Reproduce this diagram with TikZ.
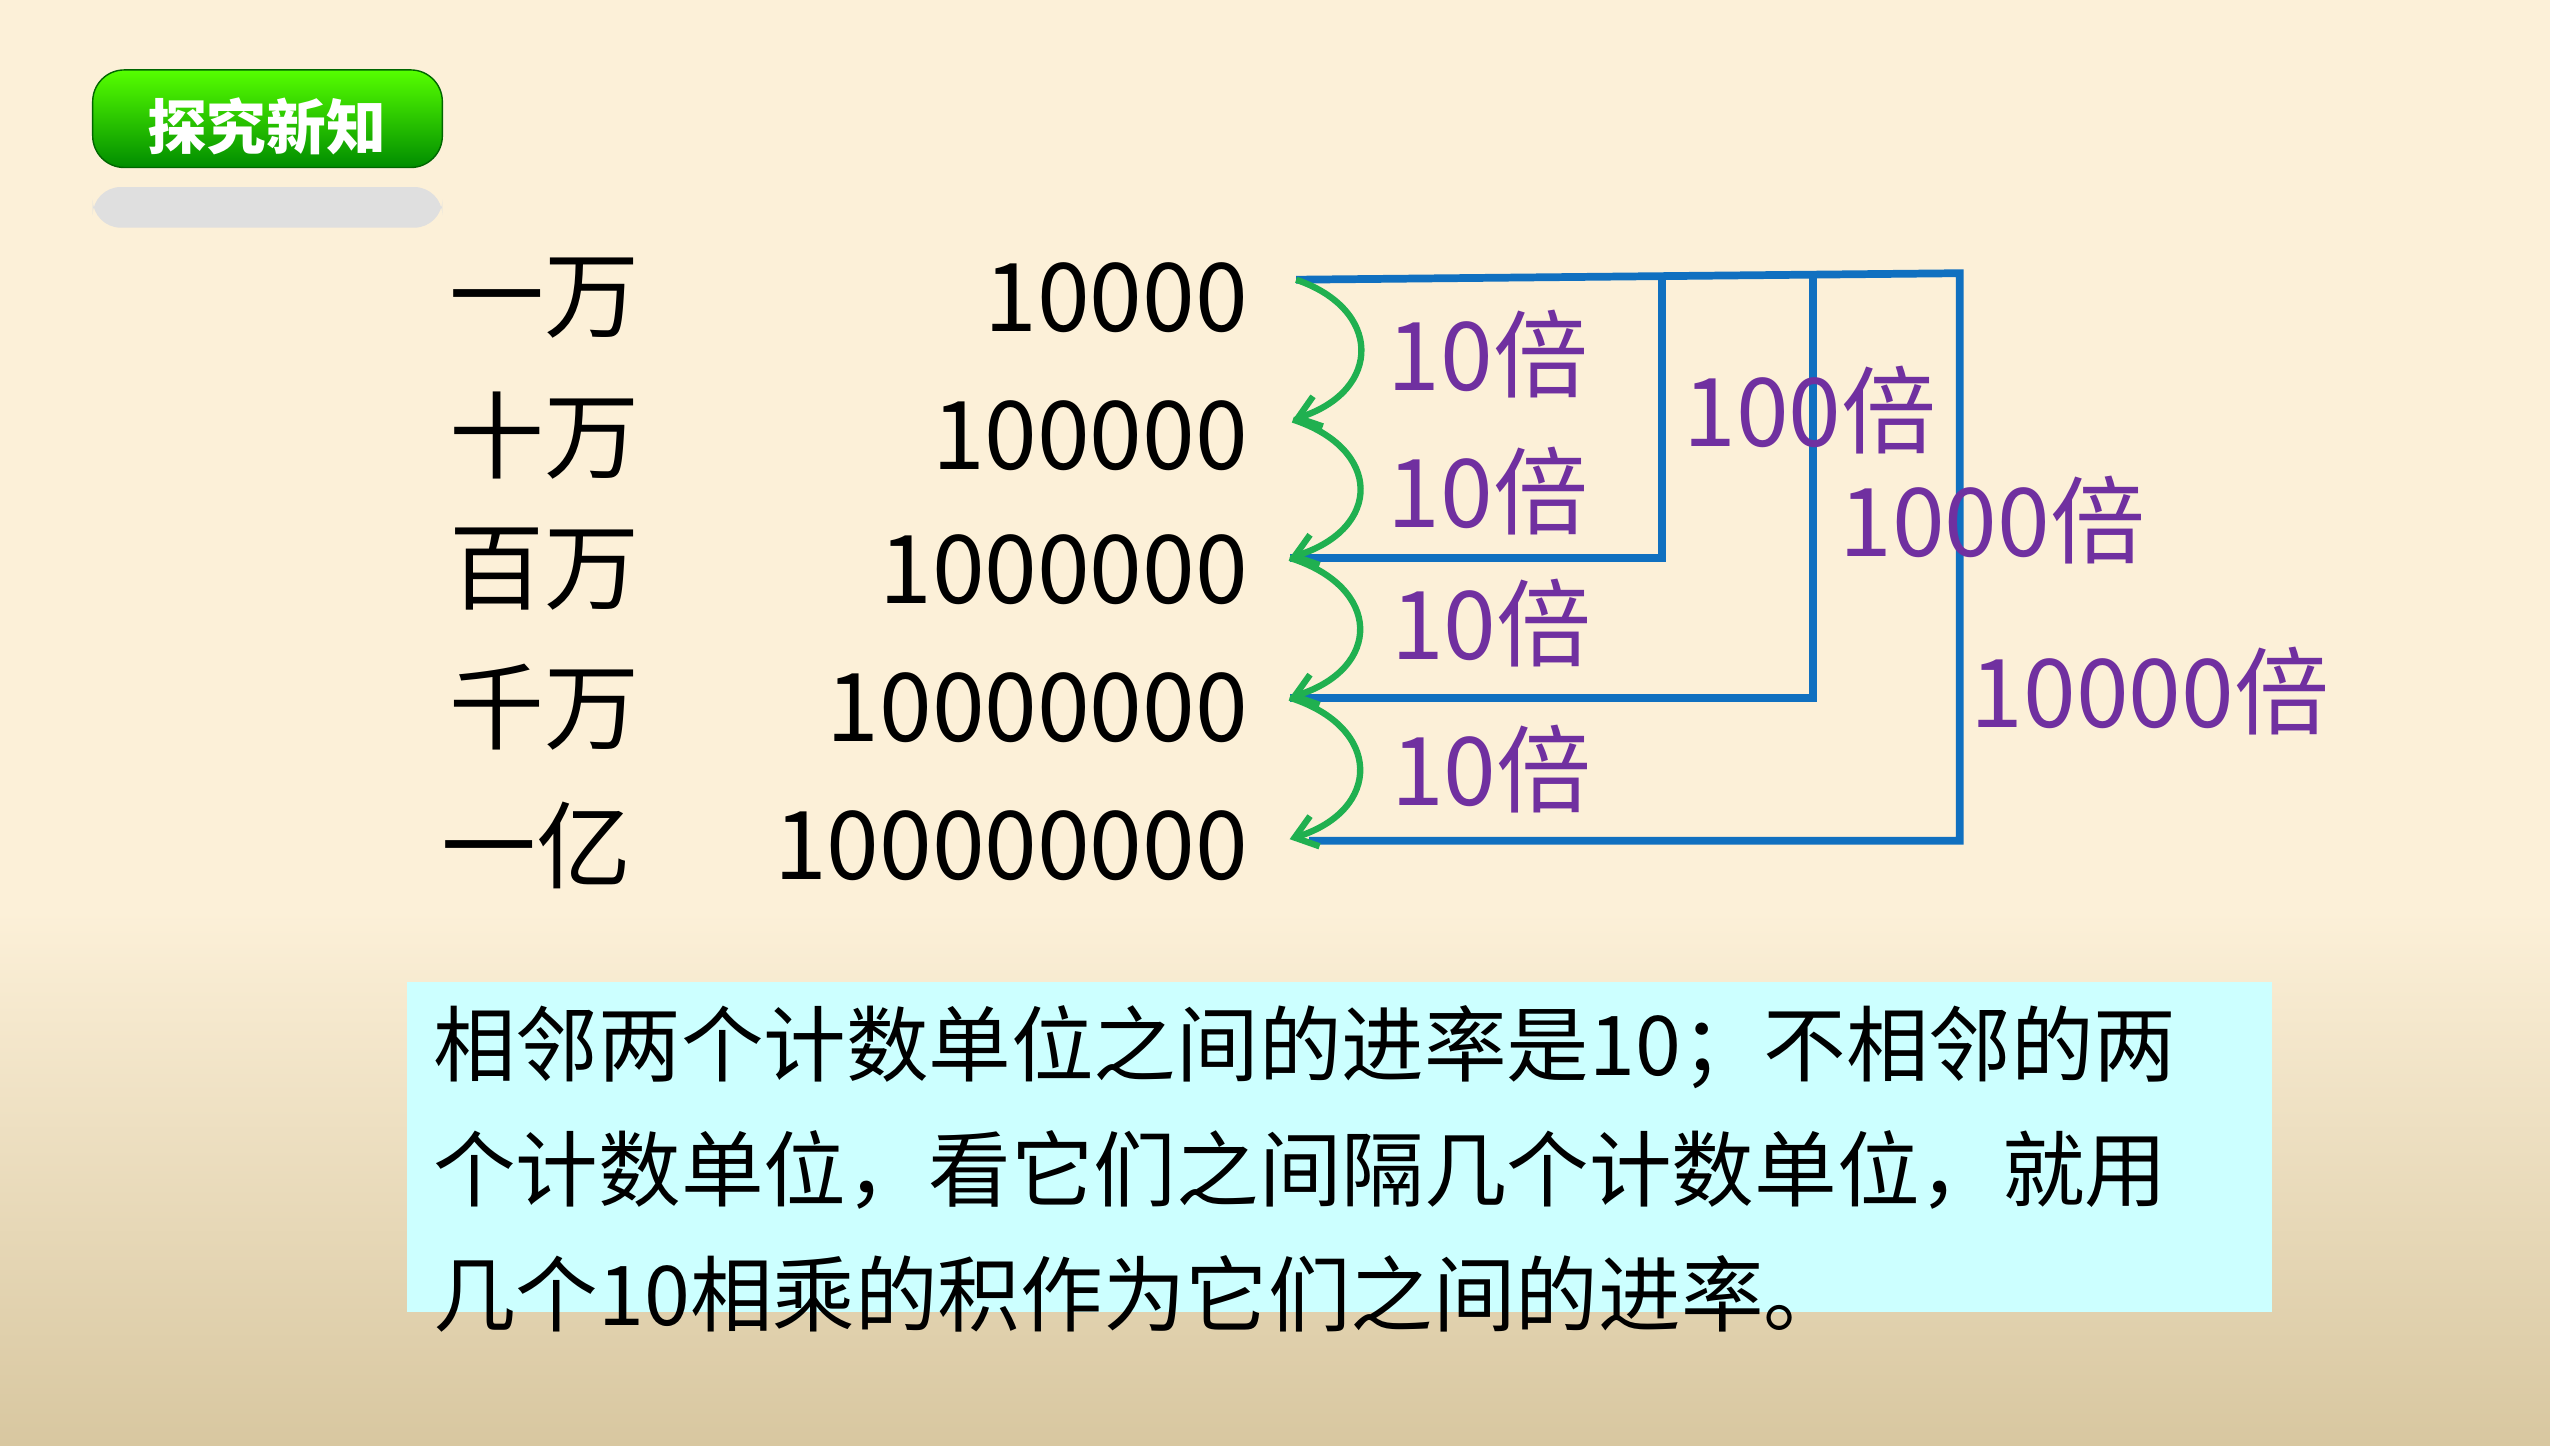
\documentclass[tikz,border=0pt]{standalone}
\usepackage{fontspec}
\setmainfont{Noto Sans CJK SC}
\usetikzlibrary{arrows.meta, positioning, calc}
\definecolor{bgtop}{HTML}{FCF0D8}
\definecolor{bgbot}{HTML}{D8C7A0}
\definecolor{linkblue}{HTML}{1070C0}
\definecolor{arcgreen}{HTML}{20B050}
\definecolor{ratepurple}{HTML}{7030A0}
\definecolor{boxcyan}{HTML}{CCFFFF}

\begin{document}
\begin{tikzpicture}[
    x=0.01626cm, y=-0.01626cm,
    unit/.style={anchor=center, font=\fontsize{27}{30}\selectfont},
    number/.style={anchor=east, font=\fontsize{27}{30}\selectfont},
    rate/.style={anchor=center, text=ratepurple, font=\fontsize{27}{30}\selectfont},
    bracket/.style={linkblue, line width=2.2pt},
    tenfold/.style={arcgreen, line width=1.8pt, -{Straight Barb[length=6pt,width=9pt]}}
]

% Background
\fill[bgtop] (0,0) rectangle (1568,560);
\shade[top color=bgtop, bottom color=bgbot] (0,560) rectangle (1568,889);
\useasboundingbox (0,0) rectangle (1568,889);

% Title button
\fill[gray!25, rounded corners=8] (57,115) rectangle (272,140);
\shade[top color=green!55!lime, bottom color=green!55!black, rounded corners=9, draw=green!40!black]
    (57,43) rectangle (272,103);
\node[text=white, font=\fontsize{17}{20}\selectfont\bfseries] (title) at (164,78) {探究新知};

% Units and numbers
\node[unit] (u1) at (335,183) {一万};
\node[unit] (u2) at (335,268) {十万};
\node[unit] (u3) at (335,350) {百万};
\node[unit] (u4) at (335,435) {千万};
\node[unit] (u5) at (330,520) {一亿};
\node[number] (n1) at (775,183) {10000};
\node[number] (n2) at (775,268) {100000};
\node[number] (n3) at (775,350) {1000000};
\node[number] (n4) at (775,435) {10000000};
\node[number] (n5) at (775,520) {100000000};

% Arc ends
\coordinate (a1) at (797,172);
\coordinate (a2) at (795,258);
\coordinate (a3) at (793,343);
\coordinate (a4) at (793,429);
\coordinate (a5) at (793,516);

% Corners of the brackets
\coordinate (c1) at (1022,168);
\coordinate (c2) at (1115,168);
\coordinate (c3) at (1205,168);

% Blue brackets
\draw[bracket] (a1) -- (c3) |- (805,517);
\draw[bracket] (c1) |- (a3);
\draw[bracket] (c2) |- (a4);

% Green arcs
\draw[tenfold] (a1) .. controls (850,190) and (850,240) .. (a2);
\draw[tenfold] (a2) .. controls (850,276) and (850,325) .. (a3);
\draw[tenfold] (a3) .. controls (850,361) and (850,411) .. (a4);
\draw[tenfold] (a4) .. controls (850,447) and (850,498) .. (a5);

% Rates
\node[rate] (r1) at (915,218) {10倍};
\node[rate] (r2) at (915,302) {10倍};
\node[rate] (r3) at (917,383) {10倍};
\node[rate] (r4) at (917,473) {10倍};
\node[rate] (r5) at (1113,252) {100倍};
\node[rate] (r6) at (1225,320) {1000倍};
\node[rate] (r7) at (1322,425) {10000倍};

% Summary box
\fill[boxcyan] (250,604) rectangle (1397,807);
\node[anchor=north west, align=left, inner sep=0pt, font=\fontsize{23.5}{35.5}\selectfont] (summary) at (266,618)
    {相邻两个计数单位之间的进率是10；不相邻的两\\个计数单位，看它们之间隔几个计数单位，就用\\几个10相乘的积作为它们之间的进率。};

\end{tikzpicture}
\end{document}
